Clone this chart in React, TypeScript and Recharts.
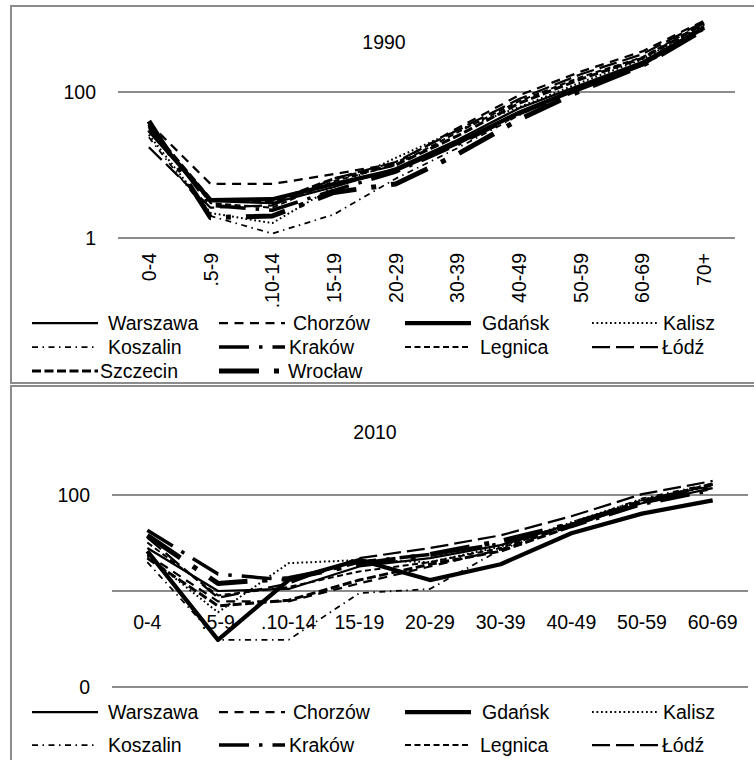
import React from 'react'
import { LineChart, Line, XAxis, YAxis, CartesianGrid } from 'recharts'

const FONT = '"Liberation Sans", Arial, sans-serif'
const FS = 19.5
const GRID = '#8c8c8c'

const CITIES = ['Warszawa', 'Chorzów', 'Gdańsk', 'Kalisz', 'Koszalin', 'Kraków', 'Legnica', 'Łódź', 'Szczecin', 'Wrocław']

// 1990
const AGES_1990 = ['0-4', '.5-9', '.10-14', '15-19', '20-29', '30-39', '40-49', '50-59', '60-69', '70+']
const WARSZAWA_1990 = [32, 3.2, 3.0, 5.0, 9.0, 22, 60, 125, 260, 780]
const CHORZOW_1990 = [38, 5.5, 5.5, 7.5, 10.5, 32, 90, 190, 360, 950]
const GDANSK_1990 = [30, 3.3, 3.4, 5.5, 8.5, 20, 52, 115, 240, 760]
const KALISZ_1990 = [26, 2.2, 1.6, 5.0, 12.5, 30, 62, 135, 280, 830]
const KOSZALIN_1990 = [24, 2.0, 1.15, 2.1, 6.5, 17, 48, 118, 260, 820]
const KRAKOW_1990 = [36, 2.8, 2.4, 4.5, 8.0, 19, 50, 110, 235, 740]
const LEGNICA_1990 = [35, 3.0, 2.6, 6.0, 10, 28, 75, 160, 300, 880]
const LODZ_1990 = [17.5, 2.6, 2.8, 6.5, 11, 30, 80, 175, 330, 920]
const SZCZECIN_1990 = [34, 3.4, 3.1, 6.5, 10, 25, 70, 150, 290, 860]
const WROCLAW_1990 = [40, 1.9, 2.0, 4.2, 5.5, 14, 42, 105, 230, 720]
const Y_TICKS_1990 = [1, 100]
const Y_LABELS_1990 = ['1', '100']

// 2010
const AGES_2010 = ['0-4', '.5-9', '.10-14', '15-19', '20-29', '30-39', '40-49', '50-59', '60-69']
const WARSZAWA_2010 = [28, 10, 10.5, 18, 22, 30, 50, 82, 118]
const CHORZOW_2010 = [24, 7.8, 7.8, 12, 18, 27, 48, 88, 128]
const GDANSK_2010 = [26, 3.1, 13, 21, 13, 19, 40, 64, 88]
const KALISZ_2010 = [23, 6, 19.5, 21, 20, 29, 52, 90, 125]
const KOSZALIN_2010 = [20, 3.1, 3.1, 9.5, 10.5, 27, 50, 92, 132]
const KRAKOW_2010 = [43, 15, 13, 20, 24, 31, 47, 80, 112]
const LEGNICA_2010 = [32, 9, 11, 16, 20, 28, 50, 88, 125]
const LODZ_2010 = [36, 8.5, 12, 22, 28, 38, 60, 102, 140]
const SZCZECIN_2010 = [22, 7, 8, 13, 19, 26, 47, 86, 130]
const WROCLAW_2010 = [38, 12, 13.5, 19, 24, 33, 50, 84, 120]
const Y_TICKS_2010 = [1, 10, 100]
const Y_LABELS_2010 = ['0', '', '100']

const SERIES_1990 = [WARSZAWA_1990, CHORZOW_1990, GDANSK_1990, KALISZ_1990, KOSZALIN_1990, KRAKOW_1990, LEGNICA_1990, LODZ_1990, SZCZECIN_1990, WROCLAW_1990]
const SERIES_2010 = [WARSZAWA_2010, CHORZOW_2010, GDANSK_2010, KALISZ_2010, KOSZALIN_2010, KRAKOW_2010, LEGNICA_2010, LODZ_2010, SZCZECIN_2010, WROCLAW_2010]

// excel-like dash styles, one per city; gap = where the legend text starts after the sample
const STYLES: Record<string, { width: number; dash?: string; gap: number }> = {
  Warszawa: { width: 2.25, gap: 76 },
  Chorzów: { width: 2.25, dash: '9 6.5', gap: 74 },
  Gdańsk: { width: 4.25, gap: 77 },
  Kalisz: { width: 2, dash: '1.75 2.75', gap: 71 },
  Koszalin: { width: 1.75, dash: '6 4.5 1.5 4.5', gap: 76 },
  Kraków: { width: 3.5, dash: '30 10 3.5 10', gap: 70 },
  Legnica: { width: 2, dash: '6 3.5', gap: 75 },
  Łódź: { width: 2.25, dash: '18 6', gap: 70 },
  Szczecin: { width: 3, dash: '9 3.5', gap: 68 },
  Wrocław: { width: 5, dash: '40 15 5 15', gap: 69 },
}

function buildRows(ages: string[], series: number[][]) {
  return ages.map((age, i) => {
    const row: Record<string, string | number> = { age }
    CITIES.forEach((c, k) => {
      row[c] = series[k][i]
    })
    return row
  })
}

const rows1990 = buildRows(AGES_1990, SERIES_1990)
const rows2010 = buildRows(AGES_2010, SERIES_2010)

const RotatedTick = (props: any) => {
  const { x, y, payload } = props
  return (
    <text
      transform={`translate(${x},${y + 15}) rotate(-90)`}
      textAnchor="end"
      dominantBaseline="central"
      fontSize={FS}
      fontFamily={FONT}
      fill="#000"
    >
      {payload.value}
    </text>
  )
}

// 2010 axis crosses at 10, labels sit just under that line
const RaisedTick = (props: any) => {
  const { x, y, payload } = props
  return (
    <text x={x} y={y - 65} textAnchor="middle" dominantBaseline="central" fontSize={FS} fontFamily={FONT} fill="#000">
      {payload.value}
    </text>
  )
}

function seriesLines() {
  return CITIES.map((c) => (
    <Line
      key={c}
      dataKey={c}
      type="linear"
      stroke="#000"
      strokeWidth={STYLES[c].width}
      strokeDasharray={STYLES[c].dash}
      strokeLinejoin="round"
      dot={false}
      activeDot={false}
      isAnimationActive={false}
    />
  ))
}

// the 2010 picture is cropped after its second legend row
function CityLegend({ top, rowGap, count }: { top: number; rowGap: number; count: number }) {
  const colX = [32, 219, 405, 592]
  return (
    <svg width={754} height={3 * rowGap + 20} style={{ position: 'absolute', left: 0, top }}>
      {CITIES.slice(0, count).map((c, i) => {
        const x = colX[i % 4]
        const y = 12 + Math.floor(i / 4) * rowGap
        return (
          <g key={c}>
            <line x1={x} x2={x + 66} y1={y} y2={y} stroke="#000" strokeWidth={STYLES[c].width} strokeDasharray={STYLES[c].dash} />
            <text x={x + STYLES[c].gap} y={y} dominantBaseline="central" fontSize={FS} fontFamily={FONT} fill="#000">
              {c}
            </text>
          </g>
        )
      })}
    </svg>
  )
}

const titleStyle: React.CSSProperties = {
  position: 'absolute',
  width: 100,
  textAlign: 'center',
  fontFamily: FONT,
  fontSize: FS,
  lineHeight: '22px',
  color: '#000',
}

export default function App() {
  return (
    <div style={{ position: 'absolute', left: 0, top: 0, width: 754, height: 760, overflow: 'hidden', background: '#fff' }}>
      <div style={{ position: 'absolute', left: 10, top: 5, width: 800, height: 379, border: `2px solid ${GRID}`, boxSizing: 'border-box' }} />
      <div style={{ position: 'absolute', left: 10, top: 385, width: 800, height: 500, border: `2px solid ${GRID}`, boxSizing: 'border-box' }} />

      <div style={{ ...titleStyle, left: 334, top: 31 }}>1990</div>
      <div style={{ position: 'absolute', left: 0, top: 0 }}>
        <LineChart width={754} height={330} data={rows1990} margin={{ top: 19, right: 19, bottom: 0, left: 0 }}>
          <CartesianGrid vertical={false} stroke={GRID} strokeWidth={2} syncWithTicks />
          <XAxis
            dataKey="age"
            interval={0}
            tickLine={false}
            axisLine={false}
            tickSize={0}
            tickMargin={0}
            height={92}
            padding={{ left: 30.85, right: 30.85 }}
            tick={(p: any) => <RotatedTick {...p} />}
          />
          <YAxis
            scale="log"
            domain={[1, 1000]}
            ticks={Y_TICKS_1990}
            tickFormatter={(v: number) => Y_LABELS_1990[Y_TICKS_1990.indexOf(v)] ?? ''}
            width={118}
            tickLine={false}
            axisLine={false}
            tickSize={0}
            tickMargin={22}
            tick={{ fill: '#000', fontSize: FS, fontFamily: FONT }}
          />
          {seriesLines()}
        </LineChart>
      </div>
      <CityLegend top={311} rowGap={24} count={10} />

      <div style={{ ...titleStyle, left: 325, top: 421 }}>2010</div>
      <div style={{ position: 'absolute', left: 0, top: 380 }}>
        <LineChart width={754} height={337} data={rows2010} margin={{ top: 19, right: 6, bottom: 0, left: 0 }}>
          <CartesianGrid vertical={false} stroke={GRID} strokeWidth={2} syncWithTicks />
          <XAxis
            dataKey="age"
            interval={0}
            tickLine={false}
            axisLine={false}
            tickSize={0}
            tickMargin={0}
            height={30}
            padding={{ left: 35.33, right: 35.33 }}
            tick={(p: any) => <RaisedTick {...p} />}
          />
          <YAxis
            scale="log"
            domain={[1, 1000]}
            ticks={Y_TICKS_2010}
            tickFormatter={(v: number) => Y_LABELS_2010[Y_TICKS_2010.indexOf(v)] ?? ''}
            width={112}
            tickLine={false}
            axisLine={false}
            tickSize={0}
            tickMargin={22}
            tick={{ fill: '#000', fontSize: FS, fontFamily: FONT }}
          />
          {seriesLines()}
        </LineChart>
      </div>
      <CityLegend top={700} rowGap={33} count={8} />
    </div>
  )
}
